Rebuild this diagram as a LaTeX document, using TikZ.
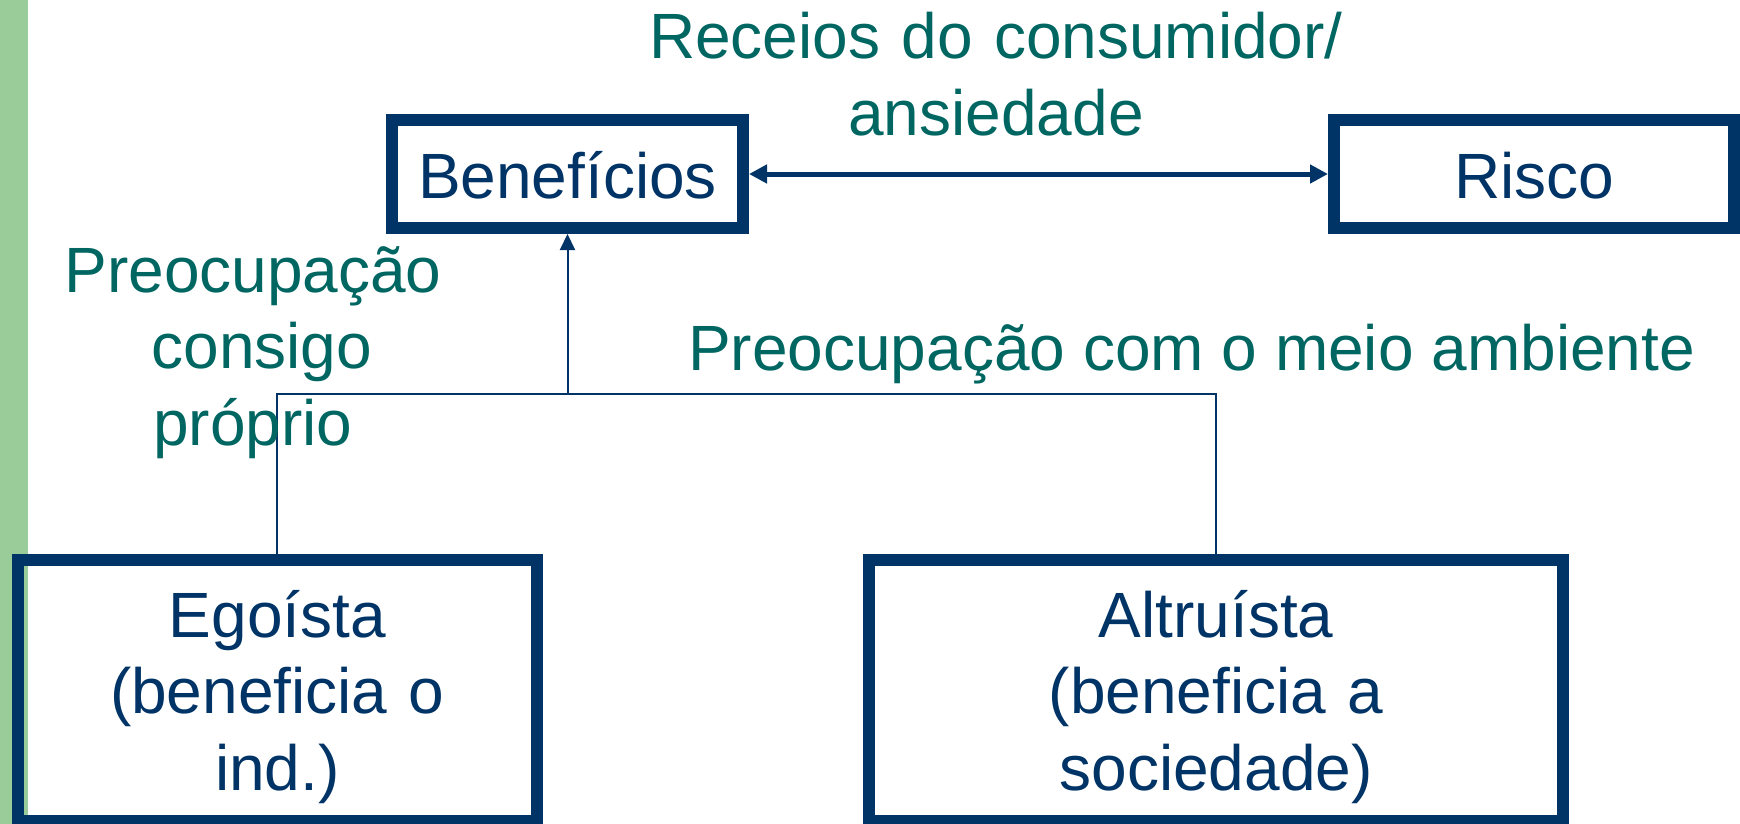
\documentclass[tikz,border=0pt]{standalone}
\usepackage{fontspec}
\setmainfont{Liberation Sans}
\usetikzlibrary{arrows.meta}
\definecolor{navy}{RGB}{0,51,102}
\definecolor{tealtxt}{RGB}{0,102,98}
\definecolor{barg}{RGB}{153,204,153}
\begin{document}
\begin{tikzpicture}[x=1pt,y=-1pt,
  bigfont/.style={font=\fontsize{64}{76.5}\selectfont},
  box/.style={draw=navy,line width=12pt,inner sep=0pt,text=navy,bigfont,align=center},
  onebox/.style={box,text height=48pt,text depth=0pt,minimum height=108pt},
  threebox/.style={box,text width=480pt,text height=0pt,text depth=107pt,minimum height=261pt},
  lbl/.style={text=tealtxt,bigfont,inner sep=0pt},
  thinline/.style={draw=navy,line width=2pt},
  bigtip/.style={Triangle[length=18pt,width=18pt]},
  smalltip/.style={Triangle[length=16pt,width=15pt]}
  ]
\useasboundingbox (0,0) rectangle (1740,824);
\fill[barg] (0,0) rectangle (27.5,824);
% boxes
\node[onebox,minimum width=351pt] (ben) at (567.5,174) {Benefícios};
\node[onebox,minimum width=400pt] (risk) at (1534,174) {Risco};
\node[threebox,minimum width=519.5pt] (ego) at (277.25,690.5) {Egoísta\\(beneficia o\\ind.)};
\node[threebox,minimum width=694pt] (alt) at (1216,690.5) {Altruísta\\(beneficia a\\sociedade)};
% connectors
\coordinate (j) at (567.5,394);
\draw[navy,line width=5pt,{Triangle[length=18pt,width=18pt]}-{Triangle[length=18pt,width=18pt]}] (ben.east) -- (risk.west);
\draw[thinline,-{Triangle[length=16pt,width=15pt]}] (j) -- (ben.south);
\draw[thinline] (ego.north) -- (ego.north |- j) -- (alt.north |- j) -- (alt.north);
% labels
\node[lbl,anchor=base,text width=760pt,align=center] (rec) at (996,59) {Receios do consumidor/\\ansiedade};
\node[lbl,anchor=base,text width=420pt,align=center] (self) at (253,292) {Preocupação\\\hspace*{0.278em}consigo\\próprio};
\node[lbl,anchor=base west] (env) at (688,370) {Preocupação com o meio ambiente};
\end{tikzpicture}
\end{document}
